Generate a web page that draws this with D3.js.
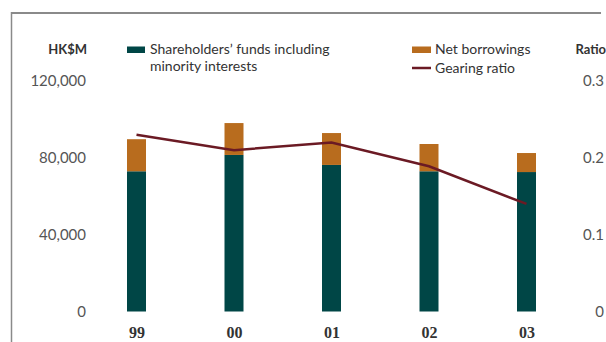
<!DOCTYPE html>
<html lang="en">
<head>
<meta charset="utf-8">
<title>Shareholders' funds and gearing</title>
<script src="https://cdn.jsdelivr.net/npm/d3@7"></script>
<style>
  body { margin: 0; background: #fff; }
  svg { display: block; }
  .tick-lbl { font-family: Lato, "Open Sans", sans-serif; font-size: 15px; fill: #555; }
  .lgd { font-family: Lato, "Open Sans", sans-serif; font-size: 14px; fill: #333; }
  .unit { font-family: Lato, "Open Sans", sans-serif; font-size: 13px; font-weight: bold; fill: #333; }
  .year { font-family: "Liberation Serif", serif; font-size: 16px; font-weight: bold; fill: #333; }
</style>
</head>
<body>
<script>
// data
var years         = ["99", "00", "01", "02", "03"];
var shareholders  = [73000, 81500, 76300, 73000, 72600];
var netBorrowings = [16700, 16600, 16600, 14200, 9900];
var gearing       = [0.230, 0.210, 0.220, 0.189, 0.140];
var leftTicks     = [0, 40000, 80000, 120000];
var rightTicks    = [0, 0.1, 0.2, 0.3];

var W = 606, H = 342;
var teal = "#004646", orange = "#b86c1e", maroon = "#6b1a24";

var svg = d3.select("body").append("svg").attr("width", W).attr("height", H);

// frame lines
svg.append("line").attr("x1", 11).attr("x2", 601).attr("y1", 13).attr("y2", 13)
  .attr("stroke", "#8a8a8a").attr("stroke-width", 2);
svg.append("line").attr("x1", 11.5).attr("x2", 11.5).attr("y1", 12).attr("y2", H)
  .attr("stroke", "#8a8a8a").attr("stroke-width", 1.5);

var x = d3.scalePoint().domain(years).range([136.5, 526.5]);
var y = d3.scaleLinear().domain([0, 120000]).range([311.5, 81]);
var yR = d3.scaleLinear().domain([0, 0.3]).range([311.5, 81]);
var bw = 19;

// left axis
var fmt = d3.format(",");
var gl = svg.append("g").attr("transform", "translate(86,0)")
  .call(d3.axisLeft(y).tickValues(leftTicks).tickSize(0).tickPadding(0).tickFormat(fmt));
gl.select(".domain").remove();
gl.selectAll("text").attr("class", "tick-lbl").attr("font-family", null).attr("font-size", null).attr("fill", null);

// right axis
var gr = svg.append("g").attr("transform", "translate(604,0)")
  .call(d3.axisLeft(yR).tickValues(rightTicks).tickSize(0).tickPadding(0)
    .tickFormat(function(d){ return d === 0 ? "0" : d3.format(".1f")(d); }));
gr.select(".domain").remove();
gr.selectAll("text").attr("class", "tick-lbl").attr("font-family", null).attr("font-size", null).attr("fill", null);

// stacked bars
var rows = years.map(function(yr, i){
  return { year: yr, sh: shareholders[i], nb: netBorrowings[i] };
});
svg.selectAll("rect.sh").data(rows).enter().append("rect")
  .attr("x", function(d){ return x(d.year) - bw / 2; })
  .attr("width", bw)
  .attr("y", function(d){ return y(d.sh); })
  .attr("height", function(d){ return y(0) - y(d.sh); })
  .attr("fill", teal);
svg.selectAll("rect.nb").data(rows).enter().append("rect")
  .attr("x", function(d){ return x(d.year) - bw / 2; })
  .attr("width", bw)
  .attr("y", function(d){ return y(d.sh + d.nb); })
  .attr("height", function(d){ return y(d.sh) - y(d.sh + d.nb); })
  .attr("fill", orange);

// gearing line
var line = d3.line()
  .x(function(d, i){ return x(years[i]); })
  .y(function(d){ return yR(d); });
svg.append("path").datum(gearing).attr("d", line)
  .attr("fill", "none").attr("stroke", maroon).attr("stroke-width", 2.5);

// year labels
var gx = svg.append("g").attr("transform", "translate(0,338)")
  .call(d3.axisBottom(x).tickSize(0).tickPadding(0));
gx.select(".domain").remove();
gx.selectAll("text").attr("class", "year").attr("font-family", null).attr("font-size", null)
  .attr("fill", null).attr("dy", 0);

// unit labels
svg.append("text").attr("class", "unit").attr("x", 87).attr("y", 54).attr("text-anchor", "end").text("HK$M");
svg.append("text").attr("class", "unit").attr("x", 606).attr("y", 54).attr("text-anchor", "end").text("Ratio");

// legend
svg.append("rect").attr("x", 127).attr("y", 46.5).attr("width", 18).attr("height", 6.5).attr("fill", teal);
svg.append("text").attr("class", "lgd").attr("x", 150).attr("y", 53.5).text("Shareholders\u2019 funds including");
svg.append("text").attr("class", "lgd").attr("x", 150).attr("y", 70.5).text("minority interests");
svg.append("rect").attr("x", 412).attr("y", 46.5).attr("width", 19).attr("height", 6.5).attr("fill", orange);
svg.append("text").attr("class", "lgd").attr("x", 435).attr("y", 53.5).text("Net borrowings");
svg.append("line").attr("x1", 412).attr("x2", 431).attr("y1", 68).attr("y2", 68)
  .attr("stroke", maroon).attr("stroke-width", 2.5);
svg.append("text").attr("class", "lgd").attr("x", 435).attr("y", 72.5).text("Gearing ratio");
</script>
</body>
</html>
